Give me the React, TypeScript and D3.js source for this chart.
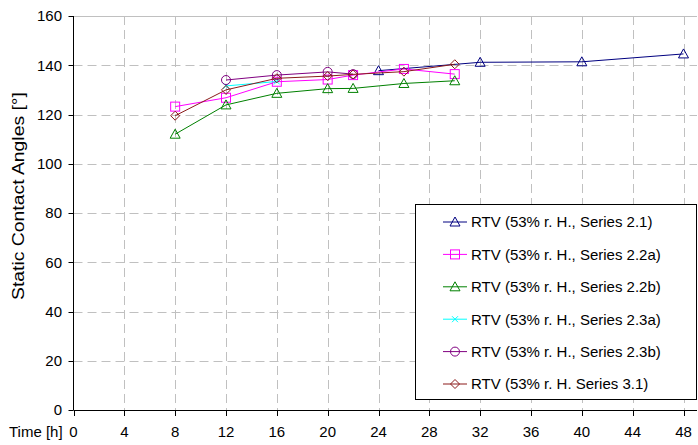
import React from "react";
import * as d3 from "d3";

// Time axis ticks (hours) and angle ticks (degrees)
const timeTicks = [0, 4, 8, 12, 16, 20, 24, 28, 32, 36, 40, 44, 48];
const angleTicks = [0, 20, 40, 60, 80, 100, 120, 140, 160];

// Static contact angle measurements: [time h, angle °]
const series21: [number, number][] = [[24, 137.8], [32, 141.2], [40, 141.4], [48, 144.6]];
const series22a: [number, number][] = [[8, 123.2], [12, 126.8], [16, 133.3], [20, 134.2], [22, 136.0], [26, 138.5], [30, 136.4]];
const series22b: [number, number][] = [[8, 112.0], [12, 123.9], [16, 128.6], [20, 130.5], [22, 130.6], [26, 132.6], [30, 133.7]];
const series23a: [number, number][] = [[12, 131.6], [16, 133.4]];
const series23b: [number, number][] = [[12, 134.0], [16, 136.0], [20, 137.3], [22, 136.4]];
const series31: [number, number][] = [[8, 119.5], [12, 130.0], [16, 134.7], [20, 135.6], [22, 136.3], [26, 137.4], [30, 140.4]];

const seriesNames = [
  "RTV (53% r. H., Series 2.1)",
  "RTV (53% r. H., Series 2.2a)",
  "RTV (53% r. H., Series 2.2b)",
  "RTV (53% r. H., Series 2.3a)",
  "RTV (53% r. H., Series 2.3b)",
  "RTV (53% r. H. Series 3.1)",
];

type MarkerKind = "triangle" | "square" | "cross" | "circle" | "diamond";

const seriesList: { name: string; data: [number, number][]; color: string; marker: MarkerKind }[] = [
  { name: seriesNames[0], data: series21, color: "#000080", marker: "triangle" },
  { name: seriesNames[1], data: series22a, color: "#ff00ff", marker: "square" },
  { name: seriesNames[2], data: series22b, color: "#008000", marker: "triangle" },
  { name: seriesNames[3], data: series23a, color: "#00ffff", marker: "cross" },
  { name: seriesNames[4], data: series23b, color: "#800080", marker: "circle" },
  { name: seriesNames[5], data: series31, color: "#8b1a1a", marker: "diamond" },
];

const W = 698;
const H = 445;
const left = 73.5;
const right = 697;
const top = 16;
const bottom = 410;
const FONT = "Arial, 'Liberation Sans', sans-serif";

const x = d3.scaleLinear().domain([0, 48]).range([left, 683.5]);
const y = d3.scaleLinear().domain([0, 160]).range([bottom, top]);

function Marker({ kind, cx, cy, color }: { kind: MarkerKind; cx: number; cy: number; color: string }) {
  const common = { fill: "none", stroke: color, strokeWidth: 1 };
  switch (kind) {
    case "triangle":
      return <path d={`M${cx},${cy - 5}L${cx + 5},${cy + 4}L${cx - 5},${cy + 4}Z`} {...common} />;
    case "square":
      return <rect x={cx - 4.5} y={cy - 4.5} width={9} height={9} {...common} />;
    case "circle":
      return <circle cx={cx} cy={cy} r={4.5} {...common} />;
    case "diamond":
      return <path d={`M${cx},${cy - 4.5}L${cx + 4.5},${cy}L${cx},${cy + 4.5}L${cx - 4.5},${cy}Z`} {...common} />;
    case "cross":
      return (
        <path d={`M${cx - 3},${cy - 3}L${cx + 3},${cy + 3}M${cx - 3},${cy + 3}L${cx + 3},${cy - 3}`} {...common} />
      );
  }
}

export default function App() {
  const line = d3
    .line<[number, number]>()
    .x((d) => x(d[0]))
    .y((d) => y(d[1]));

  const legend = { x: 415.5, y: 204.5, w: 281, h: 195, rowTop: 222, rowStep: 32.4 };

  return (
    <svg width={W} height={H} style={{ position: "absolute", left: 0, top: 0, background: "#fff" }} fontFamily={FONT}>
      {/* grid */}
      {angleTicks.slice(1).map((t) => (
        <line
          key={`gy${t}`}
          x1={left}
          x2={right}
          y1={Math.round(y(t)) + 0.5}
          y2={Math.round(y(t)) + 0.5}
          stroke="#c0c0c0"
          strokeWidth={1}
          strokeDasharray={t === 160 ? undefined : "9,5"}
        />
      ))}
      {timeTicks.slice(1).map((t) => (
        <line
          key={`gx${t}`}
          x1={Math.round(x(t)) + 0.5}
          x2={Math.round(x(t)) + 0.5}
          y1={top}
          y2={bottom}
          stroke="#c0c0c0"
          strokeWidth={1}
          strokeDasharray="9,5"
        />
      ))}

      {/* axes */}
      <line x1={left} x2={left} y1={top} y2={bottom} stroke="#000" />
      <line x1={left} x2={right} y1={bottom + 0.5} y2={bottom + 0.5} stroke="#000" />
      {angleTicks.map((t) => (
        <g key={`ty${t}`}>
          <line x1={left - 5} x2={left} y1={Math.round(y(t)) + 0.5} y2={Math.round(y(t)) + 0.5} stroke="#000" />
          <text x={62} y={y(t)} dy="0.36em" textAnchor="end" fontSize={15} fill="#000">
            {t}
          </text>
        </g>
      ))}
      {timeTicks.map((t) => (
        <g key={`tx${t}`}>
          <line x1={Math.round(x(t)) + 0.5} x2={Math.round(x(t)) + 0.5} y1={bottom} y2={bottom + 6} stroke="#000" />
          <text x={x(t)} y={437} textAnchor="middle" fontSize={15} fill="#000">
            {t}
          </text>
        </g>
      ))}
      <text x={9} y={437} fontSize={15} fill="#000">
        Time [h]
      </text>
      <text
        transform={`translate(24,196) rotate(-90)`}
        textAnchor="middle"
        fontSize={16}
        textLength={208}
        lengthAdjust="spacingAndGlyphs"
        fill="#000"
      >
        Static Contact Angles [°]
      </text>

      {/* series */}
      {seriesList.map((s) => (
        <g key={s.name}>
          <path d={line(s.data) ?? ""} fill="none" stroke={s.color} strokeWidth={1} />
          {s.data.map((d, i) => (
            <Marker key={i} kind={s.marker} cx={x(d[0])} cy={y(d[1])} color={s.color} />
          ))}
        </g>
      ))}

      {/* legend */}
      <rect x={legend.x} y={legend.y} width={legend.w} height={legend.h} fill="#fff" stroke="#000" strokeWidth={1} />
      {seriesList.map((s, i) => {
        const cy = legend.rowTop + i * legend.rowStep;
        return (
          <g key={`lg${i}`}>
            <line x1={443} x2={467} y1={cy} y2={cy} stroke={s.color} />
            <Marker kind={s.marker} cx={455} cy={cy} color={s.color} />
            <text x={471} y={cy} dy="0.36em" fontSize={15} fill="#000">
              {s.name}
            </text>
          </g>
        );
      })}
    </svg>
  );
}
